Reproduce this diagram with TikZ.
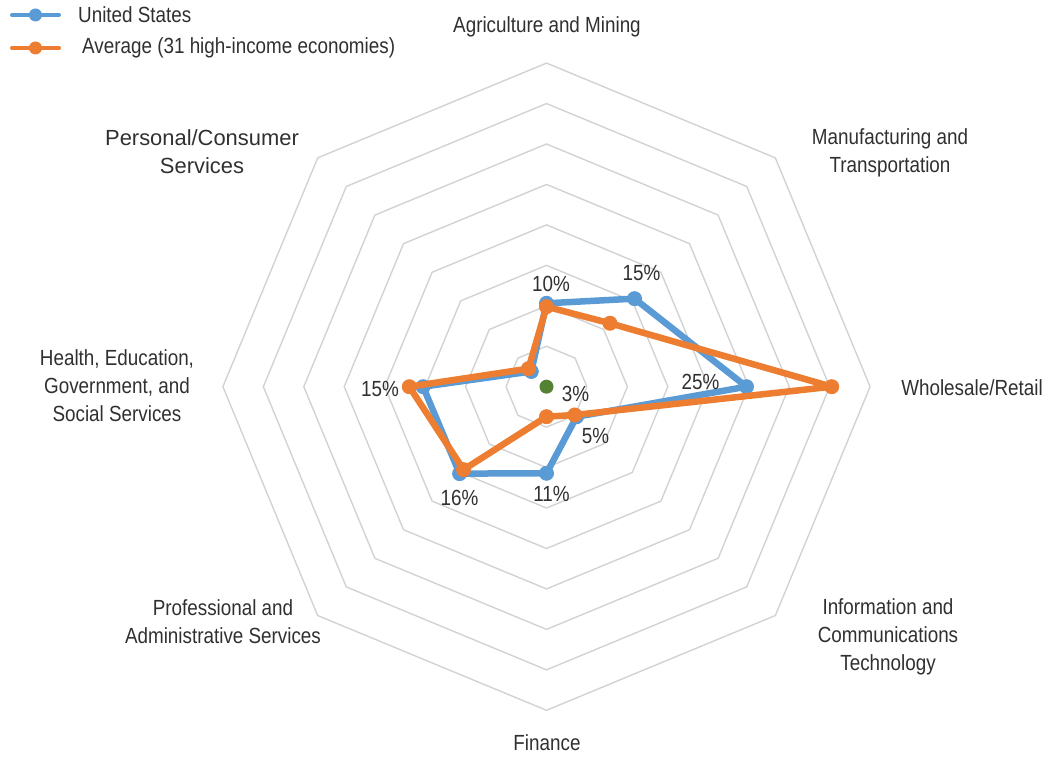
\documentclass[tikz,border=0pt]{standalone}
\usepackage{fontspec}
\setmainfont{Liberation Sans}[FakeStretch=0.86]
\newfontfamily\widefont{Liberation Sans}
\usetikzlibrary{positioning}
\definecolor{usblue}{HTML}{5B9BD5}
\definecolor{avgorange}{HTML}{ED7D31}
\definecolor{midgreen}{HTML}{548235}
\definecolor{gridgray}{HTML}{D2D2D2}
\definecolor{txt}{HTML}{303030}
\tikzset{
  cat/.style={text=txt,align=center,font=\fontsize{22}{28}\selectfont,inner sep=0pt},
  pct/.style={text=txt,font=\fontsize{22}{28}\selectfont,inner sep=0pt},
  usdot/.style={circle,fill=usblue,inner sep=0pt,minimum size=15bp},
  avgdot/.style={circle,fill=avgorange,inner sep=0pt,minimum size=15bp},
}
\begin{document}
\begin{tikzpicture}[x=1bp,y=1bp]
      \useasboundingbox (0,0) rectangle (1053,757);
      \begin{scope}[shift={(546.5,370.3)}]
        \foreach \r in {1,...,8}
          \draw[gridgray,line width=1.4bp] (90:40.45*\r)
            \foreach \a in {45,0,-45,-90,-135,-180,-225} {-- (\a:40.45*\r)} -- cycle;
        \draw
          (90:83.4) node[usdot] (u0){}
          (45:124.5) node[usdot] (u1){}
          (0:200) node[usdot] (u2){}
          (-45:42.5) node[usdot] (u3){}
          (-90:86.6) node[usdot] (u4){}
          (-135:122.9) node[usdot] (u5){}
          (180:123.4) node[usdot] (u6){}
          (135:21.5) node[usdot] (u7){};
        \begin{scope}[usblue,line width=6.5bp,line join=round]
          \draw (u0.center) -- (u1.center) -- (u2.center) -- (u3.center)
            -- (u4.center) -- (u5.center) -- (u6.center) -- (u7.center) -- cycle;
        \end{scope}
        \draw
          (90:80) node[avgdot] (a0){}
          (45:89.7) node[avgdot] (a1){}
          (0:285.2) node[avgdot] (a2){}
          (-45:40) node[avgdot] (a3){}
          (-90:30) node[avgdot] (a4){}
          (-135:117.3) node[avgdot] (a5){}
          (180:137.2) node[avgdot] (a6){}
          (135:25.5) node[avgdot] (a7){};
        \begin{scope}[avgorange,line width=6.5bp,line join=round]
          \draw (a0.center) -- (a1.center) -- (a2.center) -- (a3.center)
            -- (a4.center) -- (a5.center) -- (a6.center) -- (a7.center) -- cycle;
        \end{scope}
        \node[circle,fill=midgreen,inner sep=0pt,minimum size=14bp] (o) at (0,0) {};
        \node[pct] (p0) at ([shift={(4.6,19)}]u0) {10\%};
        \node[pct] (p1) at ([shift={(7,26)}]u1) {15\%};
        \node[pct] (p2) at ([shift={(-46,5)}]u2) {25\%};
        \node[pct] (p3) at ([shift={(19,-19)}]u3) {5\%};
        \node[pct] (p4) at ([shift={(5,-21)}]u4) {11\%};
        \node[pct] (p5) at ([shift={(0,-24)}]u5) {16\%};
        \node[pct] (p6) at ([shift={(-43,-2)}]u6) {15\%};
        \node[pct] (p7) at ([shift={(29,-7)}]o) {3\%};
      \end{scope}
      \node[cat] (agri) at (547,730) {Agriculture and Mining};
      \node[cat] (manu) at (890,604) {Manufacturing and\\Transportation};
      \node[cat] (whol) at (972,369) {Wholesale/Retail};
      \node[cat] (info) at (888,120.5) {Information and\\Communications\\Technology};
      \node[cat] (fin) at (547,14) {Finance};
      \node[cat] (prof) at (223,135) {Professional and\\Administrative Services};
      \node[cat] (heal) at (117,371) {Health, Education,\\Government, and\\Social Services};
      \node[cat,font=\widefont\fontsize{22}{28}\selectfont] (pers) at (202,605.5) {Personal/Consumer\\Services};
      \coordinate (k1a) at (12,742);
      \coordinate (k1b) at (59,742);
      \coordinate (k2a) at (12,709);
      \coordinate (k2b) at (59,709);
      \draw[usblue,line width=4bp,line cap=round] (k1a) -- node[usdot,minimum size=13bp] (k1){} (k1b);
      \draw[avgorange,line width=4bp,line cap=round] (k2a) -- node[avgdot,minimum size=13bp] (k2){} (k2b);
      \node[pct,right=19bp of k1b] (t1) {United States};
      \node[pct,right=23bp of k2b] (t2) {Average (31 high-income economies)};
    \end{tikzpicture}
\end{document}
